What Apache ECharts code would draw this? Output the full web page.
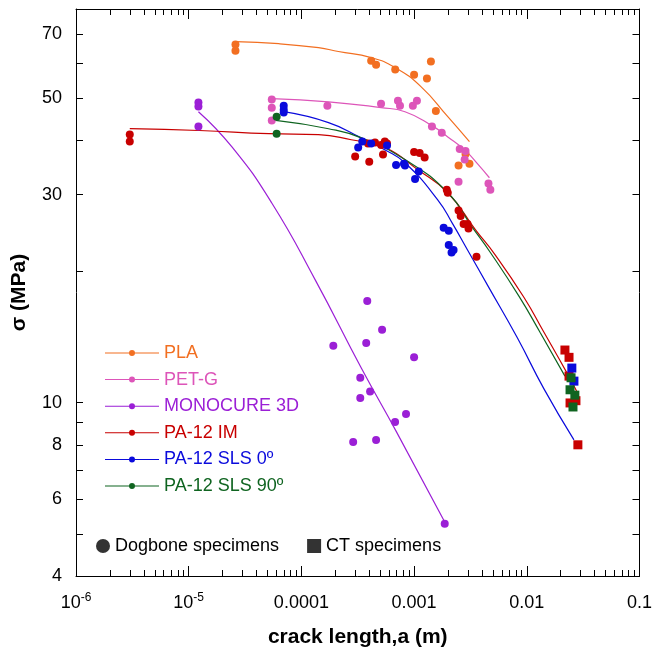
<!DOCTYPE html>
<html>
<head>
<meta charset="utf-8">
<title>crack length vs stress</title>
<script src="https://cdn.jsdelivr.net/npm/echarts@6.0.0/dist/echarts.min.js"></script>
<style>
	html, body { margin: 0; padding: 0; background: #fff; }
	#chart { width: 655px; height: 655px; }
</style>
</head>
<body>
<div id="chart"></div>
<script>
	// [crack length a (m), sigma (MPa)]
	const plaDogbone = [[2.6e-5,66.3],[2.6e-5,64.2],[4.16e-4,60.9],[4.6e-4,59.6],[6.8e-4,58.1],[1.0e-3,56.5],[1.41e-3,60.6],[1.3e-3,55.4],[1.56e-3,46.7],[2.86e-3,37.2],[3.1e-3,35.3],[2.48e-3,35.0]];
	const plaFit = [[2.6e-5,67.3],[6.3e-5,66.6],[1.42e-4,65.2],[2.13e-4,63.9],[4.16e-4,61.9],[6.78e-4,58.7],[1.15e-3,53.1],[1.99e-3,45.3],[3.1e-3,39.7]];

	const petgDogbone = [[5.46e-5,49.6],[5.46e-5,47.5],[5.46e-5,44.4],[1.7e-4,48.0],[5.09e-4,48.5],[7.19e-4,49.3],[7.5e-4,48.0],[1.06e-3,49.3],[9.75e-4,48.0],[1.44e-3,43.0],[1.76e-3,41.6],[2.54e-3,38.2],[2.86e-3,37.8],[2.81e-3,36.1],[2.48e-3,32.1],[4.57e-3,31.8],[4.75e-3,30.8]];
	const petgFit = [[5.46e-5,49.8],[1.74e-4,49.0],[5.09e-4,47.5],[8.3e-4,46.5],[1.44e-3,43.2],[1.99e-3,40.7],[2.81e-3,38.0],[3.66e-3,35.3],[4.66e-3,32.8]];

	const monoDogbone = [[1.22e-5,48.8],[1.22e-5,47.8],[1.22e-5,43.0],[3.84e-4,17.1],[5.2e-4,14.7],[1.92e-4,13.5],[3.76e-4,13.7],[1.0e-3,12.7],[3.33e-4,11.4],[4.07e-4,10.6],[3.33e-4,10.25],[8.48e-4,9.42],[6.78e-4,9.03],[2.88e-4,8.12],[4.6e-4,8.21],[1.87e-3,5.27]];
	const monoFit = [[1.22e-5,46.5],[2.42e-5,38.6],[5.46e-5,28.7],[1.33e-4,19.1],[3.4e-4,12.0],[6.92e-4,8.6],[1.87e-3,5.32]];

	const imDogbone = [[3.0e-6,41.2],[3.0e-6,39.7],[3.0e-4,36.7],[4.0e-4,35.7],[5.3e-4,37.1],[3.9e-4,39.3],[4.5e-4,39.5],[5.1e-4,39.0],[5.5e-4,39.7],[5.75e-4,39.3],[1.0e-3,37.6],[1.12e-3,37.4],[1.24e-3,36.5],[1.95e-3,30.8],[1.99e-3,30.3],[2.48e-3,27.6],[2.59e-3,26.8],[2.75e-3,25.7],[2.98e-3,25.7],[3.04e-3,25.1],[3.58e-3,21.6]];
	const imCT = [[0.0218,13.2],[0.0237,12.7],[0.0237,11.5],[0.0242,9.98],[0.0273,10.1],[0.0284,8.0]];
	const imFit = [[3.0e-6,42.5],[1.24e-5,42.1],[5.14e-5,41.4],[1.42e-4,41.2],[2.77e-4,40.1],[5.53e-4,38.5],[1.08e-3,34.2],[1.99e-3,30.3],[3.51e-3,24.9],[5.26e-3,21.8],[9.48e-3,17.4],[0.0142,14.5],[0.0227,11.7],[0.0278,10.6]];

	const sls0Dogbone = [[6.97e-5,48.0],[6.97e-5,47.0],[6.97e-5,46.3],[3.47e-4,39.7],[3.19e-4,38.5],[4.16e-4,39.3],[5.75e-4,38.9],[6.92e-4,35.1],[8.13e-4,35.3],[8.3e-4,35.0],[1.1e-3,33.9],[1.02e-3,32.6],[1.83e-3,25.2],[2.03e-3,24.8],[2.03e-3,23.0],[2.24e-3,22.4],[2.15e-3,22.1]];
	const sls0CT = [[0.0251,12.0],[0.0262,11.2]];
	const sls0Fit = [[6.97e-5,46.5],[1.74e-4,43.9],[3.4e-4,40.5],[5.53e-4,38.0],[8.3e-4,35.5],[1.62e-3,29.2],[2.2e-3,25.7],[2.98e-3,22.4],[4.48e-3,18.6],[8.22e-3,14.1],[0.0142,10.75],[0.0262,8.21]];

	const sls90Dogbone = [[6.03e-5,45.3],[6.03e-5,41.4]];
	const sls90CT = [[0.0247,11.4],[0.0242,10.7],[0.0267,10.4],[0.0257,9.77]];
	const sls90Fit = [[5.91e-5,44.4],[1.74e-4,42.5],[3.4e-4,40.5],[8.3e-4,36.1],[1.99e-3,30.3],[3.3e-3,25.2],[4.75e-3,22.1],[8.57e-3,17.5],[0.0131,14.5],[0.0218,11.5]];

	const materials = ["PLA","PET-G","MONOCURE 3D","PA-12 IM","PA-12 SLS 0º","PA-12 SLS 90º"];
	const colors = ["#f26f21","#dd55b9","#9b1fd6","#c80000","#0a0adc","#0f6420"];

	const xMajorTicks = [1e-6,1e-5,1e-4,1e-3,0.01,0.1];
	const xTickLabels = ["10^-6","10^-5","0.0001","0.001","0.01","0.1"];
	const yTickValues = [4,5,6,7,8,9,10,20,30,40,50,60,70,80];
	const yLabelValues = [4,6,8,10,30,50,70];

	const font = "Liberation Sans, Arial, sans-serif";
	const legendIcon = "path://M0,2.5 L54,2.5 L54,3.5 L0,3.5 Z M24,3 A3,3 0 1 1 30,3 A3,3 0 1 1 24,3 Z";

	// minor ticks 2..9 of each decade
	let xMinorTicks = [];
	for(let d=-6; d<-1; d++){
		for(let k=2; k<10; k++){
			xMinorTicks.push(k*Math.pow(10,d));
		}
	}

	function xLabel(value){
		for(let i=0; i<xMajorTicks.length; i++){
			if(Math.abs(Math.log10(value)-Math.log10(xMajorTicks[i]))<1e-6){
				let parts=xTickLabels[i].split("^");
				if(parts.length>1) return "{b|"+parts[0]+"}{s|"+parts[1]+"}";
				return xTickLabels[i];
			}
		}
		return "";
	}

	const groups = [
		{dog: plaDogbone, ct: null, fit: plaFit},
		{dog: petgDogbone, ct: null, fit: petgFit},
		{dog: monoDogbone, ct: null, fit: monoFit},
		{dog: imDogbone, ct: imCT, fit: imFit},
		{dog: sls0Dogbone, ct: sls0CT, fit: sls0Fit},
		{dog: sls90Dogbone, ct: sls90CT, fit: sls90Fit}
	];

	let series = [];
	groups.forEach((g,i)=>{
		series.push({
			name: materials[i], type: "scatter", symbol: "circle", symbolSize: 8,
			itemStyle: {color: colors[i], opacity: 1}, data: g.dog, z: 5
		});
		if(g.ct){
			series.push({
				name: materials[i], type: "scatter", symbol: "rect", symbolSize: 9,
				itemStyle: {color: colors[i], opacity: 1}, data: g.ct, z: 5
			});
		}
		series.push({
			name: materials[i], type: "line", smooth: 0.5, showSymbol: false, symbol: "none",
			lineStyle: {color: colors[i], width: 1.2}, itemStyle: {color: colors[i]},
			data: g.fit, z: 3
		});
	});
	series.push({name: "Dogbone specimens", type: "scatter", symbol: "circle", itemStyle: {color: "#000"}, data: []});
	series.push({name: "CT specimens", type: "scatter", symbol: "rect", itemStyle: {color: "#000"}, data: []});

	const axisLine = {show: true, lineStyle: {color: "#000", width: 1}};
	const tickStyle = {color: "#000", width: 1};

	const option = {
		animation: false,
		backgroundColor: "#fff",
		grid: {left: 76, right: 12, top: 9, bottom: 79},
		legend: [
			{
				orient: "vertical", left: 100, top: 339,
				itemWidth: 54, itemHeight: 6, itemGap: 8.6, selectedMode: false,
				textStyle: {fontSize: 18, lineHeight: 18, fontFamily: font},
				data: materials.map((m,i)=>({name: m, icon: legendIcon, textStyle: {color: colors[i]}}))
			},
			{
				orient: "horizontal", left: 91, top: 532,
				itemWidth: 14, itemHeight: 14, itemGap: 28, selectedMode: false,
				textStyle: {fontSize: 18, lineHeight: 18, color: "#000", fontFamily: font},
				data: [{name: "Dogbone specimens", icon: "circle"}, {name: "CT specimens", icon: "rect"}]
			}
		],
		xAxis: [
			{
				type: "log", logBase: 10, min: 1e-6, max: 0.1, position: "bottom",
				name: "crack length,a (m)", nameLocation: "middle", nameGap: 51,
				nameTextStyle: {fontSize: 21, fontWeight: "bold", color: "#000", fontFamily: font},
				axisLine: axisLine,
				axisTick: {inside: true, length: 10, lineStyle: tickStyle, customValues: xMajorTicks},
				axisLabel: {
					customValues: xMajorTicks, formatter: xLabel, margin: 16,
					fontSize: 18, lineHeight: 22, color: "#000", fontFamily: font,
					rich: {
						b: {fontSize: 18, lineHeight: 22, color: "#000", fontFamily: font},
						s: {fontSize: 12, lineHeight: 12, verticalAlign: "top", color: "#000", fontFamily: font}
					}
				},
				splitLine: {show: false}
			},
			{
				type: "log", logBase: 10, min: 1e-6, max: 0.1, position: "bottom",
				axisLine: {show: false},
				axisTick: {inside: true, length: 6, lineStyle: tickStyle, customValues: xMinorTicks},
				axisLabel: {show: false}, splitLine: {show: false}
			},
			{
				type: "log", logBase: 10, min: 1e-6, max: 0.1, position: "top",
				axisLine: axisLine,
				axisTick: {inside: true, length: 10, lineStyle: tickStyle, customValues: xMajorTicks},
				axisLabel: {show: false}, splitLine: {show: false}
			},
			{
				type: "log", logBase: 10, min: 1e-6, max: 0.1, position: "top",
				axisLine: {show: false},
				axisTick: {inside: true, length: 6, lineStyle: tickStyle, customValues: xMinorTicks},
				axisLabel: {show: false}, splitLine: {show: false}
			}
		],
		yAxis: [
			{
				type: "log", logBase: 10, min: 4, max: 80, position: "left",
				name: "σ (MPa)", nameLocation: "middle", nameGap: 46,
				nameTextStyle: {fontSize: 21, fontWeight: "bold", color: "#000", fontFamily: font},
				axisLine: axisLine,
				axisTick: {inside: true, length: 7, lineStyle: tickStyle, customValues: yTickValues},
				axisLabel: {customValues: yLabelValues, margin: 14, fontSize: 18, color: "#000", fontFamily: font},
				splitLine: {show: false}
			},
			{
				type: "log", logBase: 10, min: 4, max: 80, position: "right",
				axisLine: axisLine,
				axisTick: {inside: true, length: 7, lineStyle: tickStyle, customValues: yTickValues},
				axisLabel: {show: false}, splitLine: {show: false}
			}
		],
		series: series
	};

	const chart = echarts.init(document.getElementById("chart"));
	chart.setOption(option);
	window.addEventListener("resize", chart.resize);
</script>
</body>
</html>
